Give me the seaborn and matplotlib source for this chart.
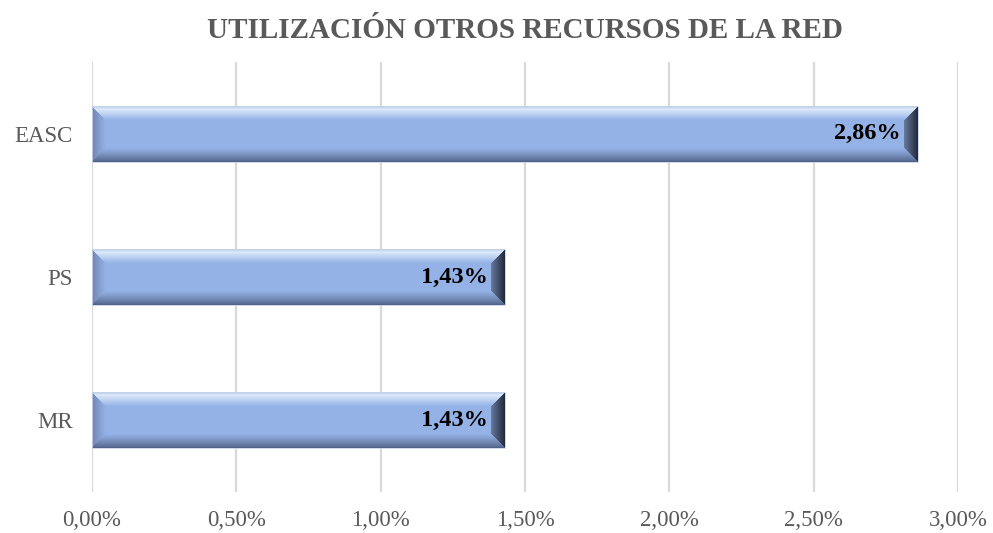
import numpy as np
import pandas as pd
import matplotlib
matplotlib.use("Agg")
import matplotlib.pyplot as plt
import seaborn as sns
from matplotlib.ticker import FuncFormatter, MultipleLocator

categories = ["EASC", "PS", "MR"]
values = [2.86, 1.43, 1.43]
title = "UTILIZACIÓN OTROS RECURSOS DE LA RED"

sns.set_theme(style="white")
plt.rcParams["font.family"] = ["Liberation Serif", "DejaVu Serif"]

df = pd.DataFrame({"recurso": categories, "pct": values})

fig = plt.figure(figsize=(9.93, 5.33), dpi=100)
ax = fig.add_axes([0.0927, 0.0769, 0.8721, 0.8068])

sns.barplot(data=df, y="recurso", x="pct", orient="h", color="#95B3E7",
            width=0.39, ax=ax, zorder=2)

ax.set_xlim(0, 3.0)
ax.xaxis.set_major_locator(MultipleLocator(0.5))
ax.xaxis.set_major_formatter(FuncFormatter(lambda v, p: f"{v:.2f}%".replace(".", ",")))
ax.grid(axis="x", color="#D9D9D9", linewidth=1.6)
ax.grid(axis="y", visible=False)
ax.set_axisbelow(True)
for s in ax.spines.values():
    s.set_visible(False)
ax.set_xlabel("")
ax.set_ylabel("")
ax.tick_params(axis="x", colors="#595959", labelsize=16.5, pad=13, length=0)
ax.tick_params(axis="y", colors="#595959", labelsize=16.5, pad=14, length=0)

fig.suptitle(title, x=0.5287, y=0.968, fontsize=21, fontweight="bold", color="#595959")

fig.canvas.draw()
ylim = ax.get_ylim()
ax.set_autoscale_on(False)


def bevel_image(wpx, hpx, bw=14):
    face = np.array([149, 179, 231], float) / 255
    top_in = np.array([222, 234, 251], float) / 255
    top_edge = np.array([175, 196, 232], float) / 255
    bot_edge = np.array([78, 94, 130], float) / 255
    left_edge = np.array([112, 134, 180], float) / 255
    right_edge = np.array([32, 40, 58], float) / 255
    right_in = np.array([105, 122, 160], float) / 255
    yy, xx = np.mgrid[0:hpx, 0:wpx].astype(float) + 0.5
    d = np.stack([yy, hpx - yy, xx, wpx - xx])
    idx = np.argmin(d, axis=0)
    dmin = np.min(d, axis=0)
    t = np.clip(dmin / bw, 0, 1)[..., None]
    dm = dmin[..., None]
    ttop = np.clip(dm / 3.0, 0, 1)
    tfade = np.clip((dm - 3) / (bw - 3), 0, 1)
    top = np.where(dm < 3, top_edge * (1 - ttop) + top_in * ttop,
                   top_in * (1 - tfade) + face * tfade)
    bot = bot_edge * (1 - t ** 0.8) + face * t ** 0.8
    left = left_edge * (1 - t) + face * t
    right = right_edge * (1 - t) + right_in * t
    img = np.empty((hpx, wpx, 3))
    img[:] = face
    img = np.where((idx == 0)[..., None], top, img)
    img = np.where((idx == 1)[..., None], bot, img)
    img = np.where((idx == 2)[..., None], left, img)
    img = np.where((idx == 3)[..., None], right, img)
    img = np.where((dmin >= bw)[..., None], face, img)
    return np.clip(img, 0, 1)


extents = [p.get_window_extent() for p in ax.patches]

for patch, bb, v in zip(ax.patches, extents, values):
    x0, y0 = patch.get_x(), patch.get_y()
    w, h = patch.get_width(), patch.get_height()
    img = bevel_image(max(int(round(bb.width)), 2), max(int(round(bb.height)), 2))
    ax.imshow(img, extent=(x0, x0 + w, y0 + h, y0), origin="upper",
              aspect="auto", interpolation="bilinear", zorder=3)
    patch.set_facecolor("none")
    patch.set_edgecolor("#C8D3E6")
    patch.set_linewidth(0.6)
    patch.set_zorder(4)
    ax.annotate(f"{v:.2f}%".replace(".", ","), xy=(x0 + w, y0 + h / 2),
                xytext=(-12, 0), textcoords="offset points", ha="right",
                va="center", fontsize=17.5, fontweight="bold", color="black",
                zorder=5)

ax.set_xlim(0, 3.0)
ax.set_ylim(ylim)

fig.savefig("out.png", dpi=100)
